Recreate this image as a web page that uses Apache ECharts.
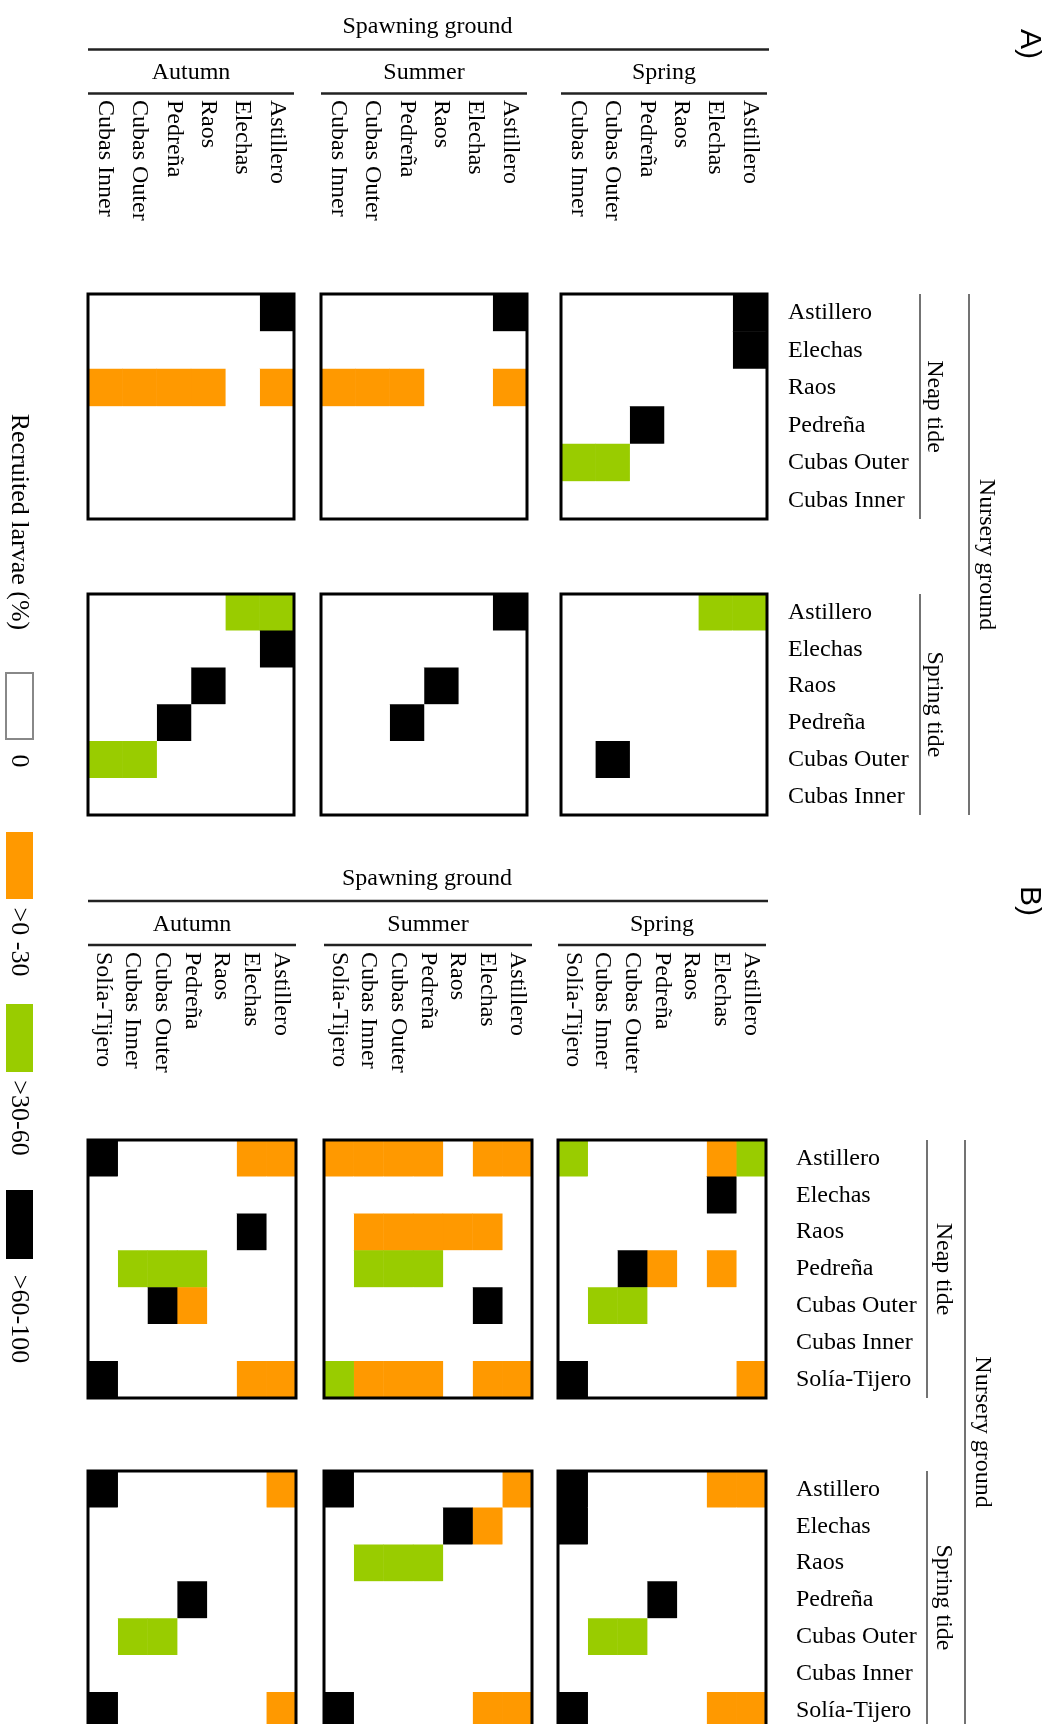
<!DOCTYPE html>
<html><head><meta charset="utf-8">
<script src="https://cdn.jsdelivr.net/npm/echarts@6/dist/echarts.min.js"></script>
<style>html,body{margin:0;padding:0;background:#fff}#c{width:1042px;height:1724px}</style>
</head><body><div id="c"></div>
<script>
// ---- DATA ----
const sitesA = ['Astillero','Elechas','Raos','Pedreña','Cubas Outer','Cubas Inner'];
const sitesB = ['Astillero','Elechas','Raos','Pedreña','Cubas Outer','Cubas Inner','Solía-Tijero'];
const seasons = ['Autumn','Summer','Spring'];
const tides = ['Neap tide','Spring tide'];
const classLabels = ['0','>0 -30','>30-60','>60-100'];
const classColors = ['#ffffff','#ff9900','#99cc00','#000000'];
// class codes: 0 = 0 %, 1 = >0-30 %, 2 = >30-60 %, 3 = >60-100 %
// rows = nursery ground, columns = spawning ground (same site order as the site list)
const A_neap_autumn = [
  [3,0,0,0,0,0],[0,0,0,0,0,0],[1,0,1,1,1,1],[0,0,0,0,0,0],[0,0,0,0,0,0],[0,0,0,0,0,0]];
const A_neap_summer = [
  [3,0,0,0,0,0],[0,0,0,0,0,0],[1,0,0,1,1,1],[0,0,0,0,0,0],[0,0,0,0,0,0],[0,0,0,0,0,0]];
const A_neap_spring = [
  [3,0,0,0,0,0],[3,0,0,0,0,0],[0,0,0,0,0,0],[0,0,0,3,0,0],[0,0,0,0,2,2],[0,0,0,0,0,0]];
const A_springtide_autumn = [
  [2,2,0,0,0,0],[3,0,0,0,0,0],[0,0,3,0,0,0],[0,0,0,3,0,0],[0,0,0,0,2,2],[0,0,0,0,0,0]];
const A_springtide_summer = [
  [3,0,0,0,0,0],[0,0,0,0,0,0],[0,0,3,0,0,0],[0,0,0,3,0,0],[0,0,0,0,0,0],[0,0,0,0,0,0]];
const A_springtide_spring = [
  [2,2,0,0,0,0],[0,0,0,0,0,0],[0,0,0,0,0,0],[0,0,0,0,0,0],[0,0,0,0,3,0],[0,0,0,0,0,0]];
const B_neap_autumn = [
  [1,1,0,0,0,0,3],[0,0,0,0,0,0,0],[0,3,0,0,0,0,0],[0,0,0,2,2,2,0],
  [0,0,0,1,3,0,0],[0,0,0,0,0,0,0],[1,1,0,0,0,0,3]];
const B_neap_summer = [
  [1,1,0,1,1,1,1],[0,0,0,0,0,0,0],[0,1,1,1,1,1,0],[0,0,0,2,2,2,0],
  [0,3,0,0,0,0,0],[0,0,0,0,0,0,0],[1,1,0,1,1,1,2]];
const B_neap_spring = [
  [2,1,0,0,0,0,2],[0,3,0,0,0,0,0],[0,0,0,0,0,0,0],[0,1,0,1,3,0,0],
  [0,0,0,0,2,2,0],[0,0,0,0,0,0,0],[1,0,0,0,0,0,3]];
const B_springtide_autumn = [
  [1,0,0,0,0,0,3],[0,0,0,0,0,0,0],[0,0,0,0,0,0,0],[0,0,0,3,0,0,0],
  [0,0,0,0,2,2,0],[0,0,0,0,0,0,0],[1,0,0,0,0,0,3]];
const B_springtide_summer = [
  [1,0,0,0,0,0,3],[0,1,3,0,0,0,0],[0,0,0,2,2,2,0],[0,0,0,0,0,0,0],
  [0,0,0,0,0,0,0],[0,0,0,0,0,0,0],[1,1,0,0,0,0,3]];
const B_springtide_spring = [
  [1,1,0,0,0,0,3],[0,0,0,0,0,0,3],[0,0,0,0,0,0,0],[0,0,0,3,0,0,0],
  [0,0,0,0,2,2,0],[0,0,0,0,0,0,0],[1,1,0,0,0,0,3]];

// ---- LAYOUT ----
const FONT = 'Liberation Serif';
const blocks = [
  { tag:'A)', tagY:44, sites:sitesA, lefts:[88,321,561], width:206, tops:[294,594], heights:[225,221],
    spawnTitleY:27, spawnLineY:49.5, seasonY:73, seasonLineY:93.5, labelTop:100, yMargin:21,
    tideLineX:920, tideTextX:934, nurseryLineX:969, nurseryTextX:986,
    mats:[[A_neap_autumn,A_neap_summer,A_neap_spring],[A_springtide_autumn,A_springtide_summer,A_springtide_spring]] },
  { tag:'B)', tagY:901, sites:sitesB, lefts:[88,324,558], width:208, tops:[1140,1471], heights:[258,258],
    spawnTitleY:879, spawnLineY:901, seasonY:925, seasonLineY:945, labelTop:952, yMargin:30,
    tideLineX:927, tideTextX:943, nurseryLineX:965, nurseryTextX:982,
    mats:[[B_neap_autumn,B_neap_summer,B_neap_spring],[B_springtide_autumn,B_springtide_summer,B_springtide_spring]] }
];

const grid=[], xAxis=[], yAxis=[], series=[], graphic=[];
function txt(x,y,t,size,rot,family){
  graphic.push({type:'text', x, y, rotation: rot||0, silent:true, z:20,
    style:{text:t, font:`${size}px "${family||FONT}"`, fill:'#000',
      textAlign:'center', textVerticalAlign:'middle', align:'center', verticalAlign:'middle'}});
}
function line(x1,y1,x2,y2,w,c){
  graphic.push({type:'line', silent:true, z:20, shape:{x1,y1,x2,y2}, style:{stroke:c||'#000', lineWidth:w||2}});
}

blocks.forEach(b=>{
  const right = b.lefts[2]+b.width;
  txt(1029, b.tagY, b.tag, 30, -Math.PI/2, 'Liberation Sans');
  txt((b.lefts[0]+right)/2, b.spawnTitleY, 'Spawning ground', 24);
  line(b.lefts[0], b.spawnLineY, right+2, b.spawnLineY, 2.5, '#222');
  seasons.forEach((s,si)=>{
    txt(b.lefts[si]+b.width/2, b.seasonY, s, 24);
    line(b.lefts[si], b.seasonLineY, b.lefts[si]+b.width, b.seasonLineY, 2.5, '#222');
  });
  tides.forEach((t,ti)=>{
    const y0=b.tops[ti], y1=Math.min(b.tops[ti]+b.heights[ti], 1724);
    line(b.tideLineX, y0, b.tideLineX, y1, 1.5, '#444');
    txt(b.tideTextX, (y0+y1)/2, t, 24, -Math.PI/2);
  });
  const ny0=b.tops[0], ny1=Math.min(b.tops[1]+b.heights[1],1724);
  line(b.nurseryLineX, ny0, b.nurseryLineX, ny1, 1.5, '#444');
  txt(b.nurseryTextX, (ny0+ny1)/2, 'Nursery ground', 24, -Math.PI/2);

  for(let ti=0; ti<2; ti++){
    for(let si=0; si<3; si++){
      const gi = grid.length;
      grid.push({left:b.lefts[si], top:b.tops[ti], width:b.width, height:b.heights[ti],
        show:true, borderColor:'#000', borderWidth:3, backgroundColor:'transparent', z:5,
        containLabel:false, outerBoundsMode:'none'});
      xAxis.push({type:'category', gridIndex:gi, data:b.sites, inverse:true, position:'top',
        axisLine:{show:false}, axisTick:{show:false}, splitLine:{show:false},
        axisLabel:{show: ti===0, interval:0, rotate:90, margin:b.tops[0]-b.labelTop,
          align:'left', verticalAlign:'middle', fontFamily:FONT, fontSize:24, color:'#000'}});
      yAxis.push({type:'category', gridIndex:gi, data:b.sites, inverse:true, position:'right',
        axisLine:{show:false}, axisTick:{show:false}, splitLine:{show:false},
        axisLabel:{show: si===2, interval:0, margin:b.yMargin, align:'left',
          fontFamily:FONT, fontSize:24, color:'#000'}});
      const m = b.mats[ti][si], data=[];
      m.forEach((row,r)=>row.forEach((v,c)=>data.push([c,r,v])));
      series.push({type:'heatmap', xAxisIndex:gi, yAxisIndex:gi, data, silent:true,
        itemStyle:{borderWidth:0}, emphasis:{disabled:true}, progressive:0, animation:false});
    }
  }
});

txt(19, 522, 'Recruited larvae (%)', 26, -Math.PI/2);
const legendBoxes = [[673,739,761],[832,899,942],[1004,1072,1118],[1190,1259,1319]];
legendBoxes.forEach((bx,i)=>{
  graphic.push({type:'rect', silent:true, z:20, shape:{x:6,y:bx[0],width:27,height:bx[1]-bx[0]},
    style:{fill:classColors[i], stroke: i===0?'#888':classColors[i], lineWidth: i===0?2:0}});
  txt(19, bx[2], classLabels[i], 26, -Math.PI/2);
});

const chart = echarts.init(document.getElementById('c'), null, {renderer:'canvas'});
chart.setOption({
  animation:false,
  backgroundColor:'#fff',
  grid, xAxis, yAxis, series, graphic,
  visualMap:{type:'piecewise', show:false, dimension:2, seriesIndex:series.map((s,i)=>i),
    pieces: classColors.map((c,i)=>({value:i, color:c}))}
});
</script></body></html>
